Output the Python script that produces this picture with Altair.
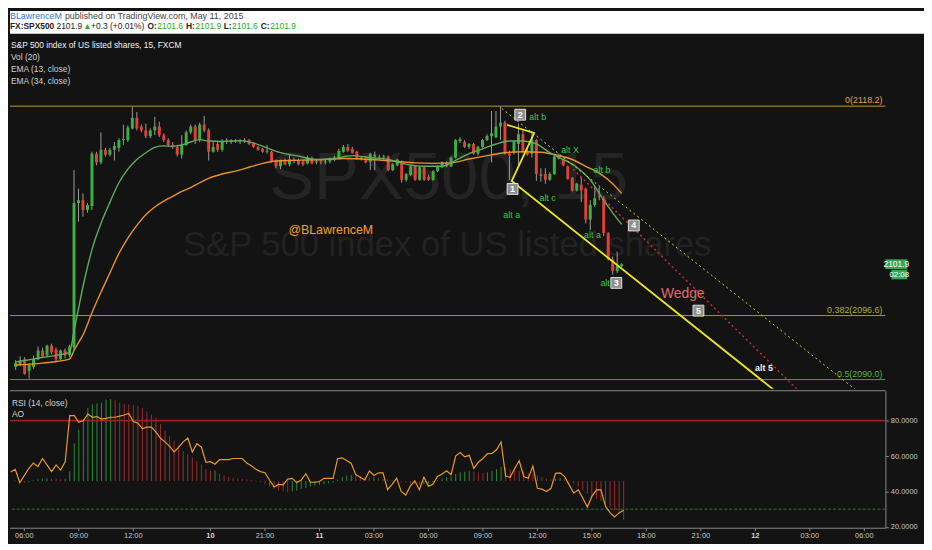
import altair as alt
import pandas as pd

FONT = "Liberation Sans, Arial, sans-serif"

# ------------------------------------------------------------------ data
# 15-minute bars; bar 0 = Fri 06:00, bar 41 = Sun 18:00 session open
bar_index = list(range(-3, 133))

bar_open = [
    2091.3, 2091.6, 2092.1, 2090.9, 2091.3, 2092.1, 2093.0, 2092.5, 2093.5, 2093.1, 2092.1, 2093.0, 2092.5,
    2093.3, 2108.2, 2108.5, 2107.5, 2107.9, 2113.3, 2112.4, 2113.7, 2113.2, 2113.7,
    2113.9, 2114.7, 2114.7, 2115.9, 2117.0, 2116.1, 2115.7, 2115.1, 2115.7, 2116.1,
    2115.2, 2114.7, 2114.2, 2114.0, 2113.2, 2114.2, 2115.5, 2116.1, 2114.7, 2116.3,
    2115.7, 2113.5, 2114.3, 2113.7, 2114.6, 2114.5, 2114.6, 2114.5, 2114.6, 2114.7,
    2114.3, 2114.0, 2113.8, 2113.5, 2113.5, 2112.5, 2112.0, 2112.6, 2112.2, 2112.7,
    2112.6, 2112.5, 2112.3, 2112.8, 2112.4, 2112.5, 2112.4, 2112.5, 2112.7, 2112.8,
    2113.5, 2114.0, 2113.8, 2113.5, 2112.8, 2112.8, 2112.5, 2113.0, 2113.0, 2112.9,
    2113.0, 2111.6, 2112.1, 2112.4, 2110.6, 2111.1, 2112.0, 2110.6, 2111.9, 2110.9,
    2110.6, 2111.5, 2111.9, 2112.4, 2112.0, 2112.9, 2114.6, 2114.5, 2114.0, 2114.3,
    2113.3, 2114.0, 2114.7, 2115.1, 2115.0, 2116.1, 2116.5, 2113.3, 2113.4, 2114.3,
    2115.3, 2113.6, 2113.3, 2114.7, 2111.2, 2111.2, 2110.6, 2111.2, 2112.8, 2112.7,
    2112.0, 2110.8, 2109.5, 2110.1, 2109.7, 2106.5, 2108.0, 2108.8, 2108.7, 2105.1,
    2102.4, 2101.2, 2101.7,
]
bar_high = [
    2092.0, 2092.4, 2092.3, 2091.7, 2092.5, 2093.4, 2093.3, 2093.6, 2093.7, 2093.3, 2093.1, 2093.2, 2093.6,
    2111.6, 2109.7, 2109.2, 2108.2, 2113.5, 2113.5, 2115.5, 2113.9, 2113.9, 2114.5,
    2114.9, 2116.3, 2116.2, 2118.1, 2117.6, 2116.3, 2116.4, 2115.9, 2117.1, 2116.6,
    2115.4, 2114.9, 2114.5, 2114.2, 2115.2, 2115.7, 2116.3, 2116.3, 2116.5, 2117.2,
    2115.9, 2114.6, 2114.5, 2114.8, 2114.9, 2114.8, 2114.8, 2114.8, 2114.9, 2114.8,
    2114.4, 2114.1, 2113.9, 2114.2, 2113.6, 2112.7, 2112.7, 2112.8, 2113.3, 2112.9,
    2112.8, 2112.7, 2113.1, 2113.0, 2112.7, 2112.7, 2112.7, 2112.9, 2113.1, 2113.8,
    2114.2, 2114.3, 2114.0, 2113.6, 2113.0, 2112.9, 2113.4, 2113.5, 2113.2, 2113.2,
    2113.1, 2112.3, 2112.8, 2112.6, 2111.3, 2112.1, 2112.1, 2112.0, 2112.0, 2111.1,
    2111.6, 2112.1, 2112.5, 2112.5, 2113.0, 2114.8, 2115.0, 2114.7, 2114.4, 2114.4,
    2114.1, 2114.8, 2115.3, 2117.7, 2117.7, 2118.2, 2116.7, 2113.6, 2114.6, 2116.4,
    2115.7, 2113.8, 2115.6, 2114.8, 2111.8, 2111.8, 2111.4, 2113.3, 2113.3, 2112.8,
    2112.1, 2110.9, 2110.3, 2110.9, 2109.8, 2108.5, 2109.9, 2109.9, 2108.9, 2105.2,
    2102.7, 2103.2, 2102.0,
]
bar_low = [
    2091.0, 2091.4, 2090.5, 2090.1, 2091.1, 2092.0, 2092.2, 2092.3, 2092.6, 2091.9, 2092.0, 2092.2, 2092.3,
    2093.0, 2106.3, 2106.8, 2107.2, 2107.5, 2112.1, 2112.2, 2113.0, 2113.0, 2112.6,
    2113.5, 2114.2, 2114.5, 2115.8, 2115.7, 2115.5, 2114.9, 2114.9, 2115.2, 2115.0,
    2114.5, 2114.0, 2113.8, 2113.0, 2112.8, 2114.1, 2115.3, 2114.3, 2114.5, 2115.5,
    2112.6, 2113.4, 2113.5, 2113.5, 2114.3, 2114.3, 2114.4, 2114.3, 2114.4, 2114.2,
    2113.9, 2113.6, 2113.4, 2113.3, 2112.4, 2111.8, 2111.7, 2112.1, 2112.0, 2112.3,
    2112.1, 2112.0, 2112.2, 2112.2, 2112.2, 2112.2, 2112.2, 2112.3, 2112.5, 2112.7,
    2113.4, 2113.5, 2113.3, 2112.7, 2112.6, 2112.3, 2111.6, 2111.6, 2112.7, 2112.7,
    2111.5, 2111.5, 2112.0, 2110.3, 2110.4, 2111.0, 2110.5, 2110.5, 2110.5, 2110.5,
    2110.5, 2111.4, 2111.8, 2111.9, 2111.9, 2112.8, 2114.4, 2113.9, 2113.8, 2113.2,
    2113.1, 2113.9, 2114.6, 2112.4, 2114.9, 2114.7, 2113.2, 2110.6, 2113.2, 2112.1,
    2113.4, 2113.1, 2112.9, 2110.5, 2110.4, 2110.2, 2110.5, 2111.1, 2112.7, 2112.0,
    2110.6, 2109.4, 2109.4, 2108.3, 2106.1, 2105.4, 2107.8, 2108.5, 2104.8, 2102.3,
    2100.8, 2101.0, 2101.6,
]
bar_close = [
    2091.7, 2092.0, 2090.6, 2091.5, 2092.1, 2093.0, 2092.4, 2093.5, 2092.8, 2092.1, 2093.0, 2092.5, 2093.4,
    2108.2, 2108.5, 2107.5, 2108.0, 2113.3, 2112.4, 2113.7, 2113.2, 2113.7, 2114.1,
    2114.7, 2114.8, 2116.0, 2117.0, 2115.9, 2115.7, 2115.1, 2115.7, 2116.1, 2115.2,
    2114.7, 2114.2, 2114.0, 2113.2, 2114.2, 2115.5, 2116.1, 2114.7, 2116.3, 2115.7,
    2113.5, 2114.0, 2113.7, 2114.6, 2114.5, 2114.6, 2114.5, 2114.6, 2114.7, 2114.3,
    2114.0, 2113.7, 2113.5, 2113.6, 2112.5, 2112.0, 2112.6, 2112.2, 2112.7, 2112.6,
    2112.2, 2112.2, 2112.9, 2112.3, 2112.5, 2112.4, 2112.5, 2112.7, 2112.9, 2113.6,
    2114.0, 2113.6, 2113.4, 2112.8, 2112.9, 2112.4, 2113.3, 2113.2, 2112.9, 2113.0,
    2111.6, 2112.2, 2112.7, 2110.6, 2111.2, 2112.0, 2110.6, 2111.9, 2110.6, 2110.6,
    2111.5, 2112.0, 2112.4, 2112.0, 2112.9, 2114.7, 2114.8, 2114.0, 2114.3, 2113.3,
    2114.0, 2114.7, 2115.1, 2115.4, 2116.1, 2116.5, 2113.3, 2113.1, 2114.5, 2115.3,
    2113.5, 2113.2, 2114.7, 2111.2, 2111.0, 2110.6, 2111.2, 2113.0, 2113.1, 2112.1,
    2110.7, 2109.5, 2110.2, 2109.5, 2106.5, 2108.0, 2108.7, 2108.9, 2105.1, 2102.4,
    2101.2, 2101.7, 2101.9,
]

rsi_values = [
    51, 52.5, 45, 49, 53, 56, 54, 58.6, 55, 51.2, 55, 52.1, 56.8,
    82.8, 82.8, 79.1, 80, 83.7, 81.9, 82.3, 80.9, 81.3, 81.9,
    81.9, 82.5, 83.2, 84.1, 79.5, 78.5, 75.5, 76.3, 76.3, 73.5,
    70, 68, 65.5, 62.3, 65, 68, 70.2, 62.3, 67, 65,
    56.5, 56.8, 55.4, 58, 58, 58, 58.6, 58.6, 58.6, 56,
    54.5, 52.5, 51.2, 50.6, 46.5, 42.5, 44, 43.7, 47, 47.4,
    45, 46.5, 50, 45.3, 45.2, 45.6, 47.4, 47.4, 47.4, 58.5,
    59, 57.5, 55.8, 49.5, 48, 46.5, 51.5, 49, 50.5, 50.5,
    41, 44, 47.5, 40, 38, 43, 46, 41, 48, 43,
    44, 48.5, 49.8, 51.7, 49.5, 60, 62, 59.5, 60.4, 53,
    56.5, 58.6, 61.4, 61.5, 63.5, 67.9, 48.7, 48, 53, 57.3,
    48.4, 47.4, 54.3, 41.8, 41.3, 40.0, 41.8, 50.2, 50.5, 48.4,
    43.7, 39.0, 40.9, 36.3, 31.2, 37.2, 40.9, 40.9, 31.6, 28,
    25.6, 27.9, 29.4,
]

ao_values = [
    0.0, 0.05, -0.1, -0.2, -0.15, 0.1, 0.2, 0.3, 0.35, 0.3, 0.25, 0.2, 0.3,
    1.25, 4.75, 6.5, 7.8, 9.25, 9.7, 9.8, 9.9, 10.3, 10.35,
    10.2, 9.9, 9.75, 9.7, 9.6, 9.5, 9.25, 8.8, 8.4, 8.0,
    7.2, 6.3, 5.7, 5.1, 4.5, 3.8, 3.4, 3.0, 2.5, 2.1,
    1.5, 1.3, 1.35, 0.9, 0.7, 0.5, 0.4, 0.3, 0.25, 0.2,
    0.1, 0.05, -0.1, -0.4, -0.7, -1.0, -1.2, -1.3, -1.4, -1.3,
    -1.2, -1.0, -0.9, -0.7, -0.6, -0.5, -0.4, -0.3, -0.2, 0.2,
    0.5, 0.7, 0.75, 0.7, 0.6, 0.5, 0.45, 0.5, 0.4, 0.3,
    0.2, 0.1, 0.05, -0.1, -0.2, -0.3, -0.4, -0.45, -0.4, -0.3,
    -0.2, 0.1, 0.3, 0.5, 0.6, 0.9, 1.1, 1.2, 1.3, 1.2,
    1.1, 1.0, 1.1, 1.3, 1.5, 1.8, 1.7, 1.5, 1.4, 1.3,
    1.2, 1.0, 0.9, 0.7, 0.5, 0.3, 0.2, 0.3, 0.4, 0.3,
    0.1, -0.3, -0.7, -1.1, -1.6, -2.0, -2.3, -2.5, -2.9, -3.3,
    -3.7, -4.0, -4.9,
]

ema13_bar = [-3, 2, 6, 9, 10, 11, 12, 13, 14, 16, 18, 20, 22, 24, 26, 28, 30, 32, 34, 36,
             38, 40, 43, 47, 50, 53, 56, 60, 64, 68, 72, 76, 80, 84, 88, 92, 95, 98, 101, 104,
             107, 110, 113, 116, 119, 122, 125, 128, 130, 132]
ema13_val = [2091.8, 2092.2, 2092.5, 2092.8, 2095.0, 2097.3, 2099.6, 2101.6, 2103.4, 2106.1,
             2108.3, 2110.3, 2111.7, 2112.7, 2113.4, 2113.95, 2114.1, 2114.05, 2114.2, 2114.5,
             2114.75, 2114.6, 2114.55, 2114.65, 2114.4, 2113.9, 2113.4, 2113.05, 2112.7, 2112.8,
             2113.1, 2112.9, 2112.7, 2112.2, 2112.0, 2112.0, 2112.6, 2113.3, 2113.8, 2114.3,
             2114.6, 2114.6, 2114.3, 2113.4, 2112.7, 2111.9, 2110.6, 2108.5, 2107.2, 2106.0]
ema34_bar = [-3, 3, 9, 10, 11, 12, 14, 16, 18, 20, 22, 24, 26, 28, 30, 32, 34, 36, 38, 40,
             43, 46, 49, 52, 55, 58, 62, 66, 70, 74, 78, 82, 86, 90, 94, 98, 102, 106, 110, 114,
             118, 121, 124, 127, 130, 132]
ema34_val = [2091.5, 2091.7, 2092.1, 2093.0, 2093.8, 2094.6, 2096.9, 2099.0, 2101.0, 2103.0,
             2104.6, 2105.9, 2107.0, 2107.8, 2108.4, 2108.9, 2109.4, 2109.8, 2110.3, 2110.75,
             2111.2, 2111.5, 2111.9, 2112.3, 2112.55, 2112.6, 2112.65, 2112.7, 2112.8, 2112.75,
             2112.65, 2112.5, 2112.35, 2112.3, 2112.35, 2112.75, 2113.1, 2113.4, 2113.5, 2113.45,
             2113.1, 2112.7, 2112.0, 2111.3, 2110.2, 2109.2]

fib_names = ["0", "0.382", "0.5"]
fib_price = [2118.2, 2096.6, 2090.0]

wave_num = ["1", "2", "3", "4", "5"]
wave_bar = [107.7, 109.4, 130.8, 134.7, 149.1]
wave_price = [2109.66, 2117.32, 2099.97, 2105.89, 2097.11]

note_text = ["alt b", "alt X", "alt b", "alt a", "alt c", "alt a", "alt"]
note_bar = [113.3, 120.5, 127.6, 107.5, 115.5, 125.5, 128.3]
note_price = [2117.04, 2113.71, 2111.57, 2107.01, 2108.71, 2104.94, 2100.0]

wedge_bar = [106.5, 112.5, 107.5, 166.0]
wedge_price = [2116.27, 2115.43, 2110.48, 2088.9]
upper_bar = [105.3, 184.5]
upper_price = [2117.96, 2088.8]
red_bar = [121.2, 171.5]
red_price = [2111.7, 2088.8]

price_ticks = [2090.0, 2092.5, 2095.0, 2097.5, 2100.0, 2102.5, 2105.0, 2107.5,
               2110.0, 2112.5, 2115.0, 2117.5, 2120.0, 2122.5, 2125.0]
rsi_ticks = [20, 40, 60, 80]
rsi_bands = [80, 30]
x_ticks = [0, 12, 24, 41, 53, 65, 77, 89, 101, 113, 125, 137, 149, 161, 173, 185]
x_labels = ["06:00", "09:00", "12:00", "10", "21:00", "11", "03:00", "06:00",
            "09:00", "12:00", "15:00", "18:00", "21:00", "12", "03:00", "06:00"]
day_ticks = [41, 65, 161]

last_price = 2101.9
countdown = "02:08"

# ------------------------------------------------------------------ frames
bars = pd.DataFrame({"bar": bar_index, "open": bar_open, "high": bar_high,
                     "low": bar_low, "close": bar_close})
bars["up"] = bars["close"] >= bars["open"]
rsi = pd.DataFrame({"bar": bar_index, "rsi": rsi_values})
ao = pd.DataFrame({"bar": bar_index, "ao": ao_values})
ao["up"] = ao["ao"].diff().fillna(0) >= 0
ao["base"] = 0.0
e13 = pd.DataFrame({"bar": ema13_bar, "v": ema13_val})
e34 = pd.DataFrame({"bar": ema34_bar, "v": ema34_val})
fib = pd.DataFrame({"name": fib_names, "price": fib_price})
fib["label"] = [f"{n}({p:.1f})" for n, p in zip(fib_names, fib_price)]
waves = pd.DataFrame({"num": wave_num, "bar": wave_bar, "price": wave_price})
notes = pd.DataFrame({"t": note_text, "bar": note_bar, "price": note_price})
wedge = pd.DataFrame({"bar": wedge_bar, "price": wedge_price, "k": list(range(len(wedge_bar)))})
upper = pd.DataFrame({"bar": upper_bar, "price": upper_price})
redl = pd.DataFrame({"bar": red_bar, "price": red_price})
lastp = pd.DataFrame({"p": [last_price], "t": [f"{last_price:.1f}"], "c": [countdown]})
ticks = pd.DataFrame({"bar": x_ticks, "label": x_labels})
ticks["day"] = ticks["bar"].isin(day_ticks)
ONE = pd.DataFrame({"k": [0]})

# ------------------------------------------------------------------ scales / sizes
W, H1, H2 = 885, 359, 139
BG = "#131313"
GREEN, RED = "#3cb043", "#e2403a"
xs = alt.Scale(domain=[-3.16, 189.65], nice=False, zero=False)
ys = alt.Scale(domain=[2089.05, 2125.68], nice=False, zero=False)
rs = alt.Scale(domain=[19.22, 96.87], nice=False, zero=False)
aos = alt.Scale(domain=[-5.96, 11.41], nice=False, zero=False)


def X(f="bar"):
    return alt.X(f"{f}:Q", scale=xs, axis=None)


def Y(f):
    return alt.Y(f"{f}:Q", scale=ys, axis=None)


def label(text, x, y, color, size=8.5, weight="normal", align="left", font=FONT):
    return alt.Chart(ONE).mark_text(text=text, align=align, baseline="middle", color=color,
                                    fontSize=size, fontWeight=weight, font=font).encode(
        x=alt.value(x), y=alt.value(y))


# ------------------------------------------------------------------ top pane
layers = []
layers.append(label("SPX500, 15", 262, 147, "#242424", size=68))
layers.append(label("S&P 500 index of US listed shares", 442, 214, "#222222", size=35, align="center"))

fib_line_colors = ["#c8963a", "#9aa41e", "#4e9c34"]
fib_text_colors = ["#e8a53c", "#a8b428", "#5cb43c"]
for name, lc, tc in zip(fib_names, fib_line_colors, fib_text_colors):
    sub = fib[fib["name"] == name]
    layers.append(alt.Chart(sub).mark_rule(strokeWidth=1, color=lc).encode(y=Y("price")))
    layers.append(alt.Chart(sub).mark_text(align="right", baseline="bottom", dy=-1, fontSize=9,
                                           font=FONT, color=tc).encode(
        x=alt.value(W - 3), y=Y("price"), text="label:N"))

layers.append(alt.Chart(bars).mark_rule(color="#9a9a9a", strokeWidth=1).encode(
    x=X(), y=alt.Y("low:Q", scale=ys, title=None,
                   axis=alt.Axis(orient="right", values=price_ticks, format=".1f", tickSize=3,
                                 labelPadding=2, labelFontSize=8.5, labelOverlap=False)),
    y2="high:Q"))
layers.append(alt.Chart(bars[bars["up"]]).mark_bar(width=3, color=GREEN).encode(
    x=X(), y=Y("open"), y2="close:Q"))
layers.append(alt.Chart(bars[~bars["up"]]).mark_bar(width=3, color=RED).encode(
    x=X(), y=Y("open"), y2="close:Q"))

layers.append(alt.Chart(e34).mark_line(color="#e8922e", strokeWidth=1.4, interpolate="monotone").encode(
    x=X(), y=Y("v")))
layers.append(alt.Chart(e13).mark_line(color="#5fae5f", strokeWidth=1.4, interpolate="monotone").encode(
    x=X(), y=Y("v")))

layers.append(alt.Chart(wedge).mark_line(color="#e8e81a", strokeWidth=1.8, clip=True).encode(
    x=X(), y=Y("price"), order="k:Q"))
layers.append(alt.Chart(upper).mark_line(color="#d6d61e", strokeWidth=1, strokeDash=[2, 3], clip=True).encode(
    x=X(), y=Y("price")))
layers.append(alt.Chart(redl).mark_line(color="#c43030", strokeWidth=1.5, strokeDash=[2, 3], clip=True).encode(
    x=X(), y=Y("price")))

layers.append(alt.Chart(waves).mark_point(shape="square", filled=True, color="#8e8e8e", stroke="#e0e0e0",
                                          strokeWidth=1, size=120, opacity=1).encode(x=X(), y=Y("price")))
layers.append(alt.Chart(waves).mark_text(color="#ffffff", fontSize=9, fontWeight="bold", font=FONT).encode(
    x=X(), y=Y("price"), text="num:N"))
layers.append(alt.Chart(notes).mark_text(color="#2ecc40", fontSize=9, font=FONT).encode(
    x=X(), y=Y("price"), text="t:N"))
layers.append(alt.Chart(pd.DataFrame({"t": ["alt 5"], "bar": [163.7], "price": [2091.19]})).mark_text(
    color="#f2f2f2", fontSize=9, fontWeight="bold", font=FONT).encode(x=X(), y=Y("price"), text="t:N"))
layers.append(alt.Chart(pd.DataFrame({"t": ["Wedge"], "bar": [145.6], "price": [2098.85]})).mark_text(
    color="#e06a6a", fontSize=14, font=FONT).encode(x=X(), y=Y("price"), text="t:N"))
layers.append(alt.Chart(pd.DataFrame({"t": ["@BLawrenceM"], "bar": [67.2], "price": [2105.38]})).mark_text(
    color="#f0a030", fontSize=12.5, font=FONT).encode(x=X(), y=Y("price"), text="t:N"))

# pane legend texts
for i, t in enumerate(["S&P 500 index of US listed shares, 15, FXCM", "Vol (20)",
                       "EMA (13, close)", "EMA (34, close)"]):
    layers.append(label(t, 1, 12 + 11.8 * i, "#f2f2f2" if i == 0 else "#d0d0d0", size=8.5))

# header band
layers.append(alt.Chart(ONE).mark_rect(color="#ffffff").encode(
    x=alt.value(0), x2=alt.value(924), y=alt.value(-23), y2=alt.value(0)))
layers.append(label("BLawrenceM", 0, -18.3, "#2a7ad3", size=9))
layers.append(label("published on TradingView.com, May 11, 2015", 55.5, -18.3, "#444444", size=9))
hdr2 = [("FX:SPX500", 0, "#222222", "bold"), ("2101.9", 47, "#222222", "normal"),
        ("\u25b2", 74, "#33a833", "normal"), ("+0.3 (+0.01%)", 82, "#222222", "normal"),
        ("O:", 139, "#222222", "bold"), ("2101.6", 149, "#2ea02e", "normal"),
        ("H:", 178, "#222222", "bold"), ("2101.9", 187.5, "#2ea02e", "normal"),
        ("L:", 216, "#222222", "bold"), ("2101.6", 224.5, "#2ea02e", "normal"),
        ("C:", 253.5, "#222222", "bold"), ("2101.9", 263, "#2ea02e", "normal")]
for t, x, c, w in hdr2:
    layers.append(label(t, x, -7.5, c, size=8.5, weight=w))

# last price box on the axis
layers.append(alt.Chart(lastp).transform_calculate(lo="datum.p - 0.5", hi="datum.p + 0.5").mark_rect(
    color="#3aa655").encode(x=alt.value(885), x2=alt.value(907), y=Y("lo"), y2="hi:Q"))
layers.append(alt.Chart(lastp).transform_calculate(lo="datum.p - 1.56", hi="datum.p - 0.58").mark_rect(
    color="#3aa655").encode(x=alt.value(891), x2=alt.value(907), y=Y("lo"), y2="hi:Q"))
layers.append(alt.Chart(lastp).mark_text(color="#ffffff", fontSize=8.5, font=FONT).encode(
    x=alt.value(896), y=Y("p"), text="t:N"))
layers.append(alt.Chart(lastp).transform_calculate(q="datum.p - 1.07").mark_text(
    color="#ffffff", fontSize=8, font=FONT).encode(x=alt.value(899), y=Y("q"), text="c:N"))

top = alt.layer(*layers).properties(width=W, height=H1)

# ------------------------------------------------------------------ RSI / AO pane
blayers = []
blayers.append(alt.Chart(ao[ao["up"]]).mark_rule(strokeWidth=1, color="#2b8a3a").encode(
    x=X(), y=alt.Y("base:Q", scale=aos, axis=None), y2="ao:Q"))
blayers.append(alt.Chart(ao[~ao["up"]]).mark_rule(strokeWidth=1, color="#9a2c2a").encode(
    x=X(), y=alt.Y("base:Q", scale=aos, axis=None), y2="ao:Q"))
blayers.append(alt.Chart(pd.DataFrame({"v": [rsi_bands[0]]})).mark_rule(color="#9e1f1f", strokeWidth=1.6).encode(
    y=alt.Y("v:Q", scale=rs, axis=None)))
blayers.append(alt.Chart(pd.DataFrame({"v": [rsi_bands[1]]})).mark_rule(
    color="#2f7a2f", strokeWidth=1, strokeDash=[3, 2]).encode(y=alt.Y("v:Q", scale=rs, axis=None)))
blayers.append(alt.Chart(rsi).mark_line(color="#eb9a22", strokeWidth=1.2).encode(
    x=X(),
    y=alt.Y("rsi:Q", scale=rs, title=None,
            axis=alt.Axis(orient="right", values=rsi_ticks, format=".4f", tickSize=3, labelPadding=2,
                          labelFontSize=7.5, labelOverlap=False))))
# pane separator, time axis line, ticks and labels
blayers.append(alt.Chart(ONE).mark_rule(color="#8a8a8a", strokeWidth=1).encode(
    x=alt.value(0), x2=alt.value(W), y=alt.value(0)))
blayers.append(alt.Chart(ONE).mark_rule(color="#8a8a8a", strokeWidth=1).encode(
    x=alt.value(0), x2=alt.value(W), y=alt.value(H2)))
blayers.append(alt.Chart(ticks).mark_rule(color="#8a8a8a", strokeWidth=1).encode(
    x=X(), y=alt.value(H2), y2=alt.value(H2 + 3)))
blayers.append(alt.Chart(ticks[~ticks["day"]]).mark_text(color="#c8c8c8", fontSize=7.5, font=FONT,
                                                         baseline="middle").encode(
    x=X(), y=alt.value(H2 + 7.5), text="label:N"))
blayers.append(alt.Chart(ticks[ticks["day"]]).mark_text(color="#d8d8d8", fontSize=7.5, font=FONT,
                                                        fontWeight="bold", baseline="middle").encode(
    x=X(), y=alt.value(H2 + 7.5), text="label:N"))
blayers.append(label("RSI (14, close)", 2, 12.5, "#d0d0d0", size=8.5))
blayers.append(label("AO", 2, 24, "#d0d0d0", size=8.5))

bottom = alt.layer(*blayers).resolve_scale(y="independent").properties(width=W, height=H2)

chart = alt.vconcat(top, bottom, spacing=1).properties(
    background=BG, padding={"left": 0, "top": 0, "right": 0, "bottom": 2}
).configure_view(fill=BG, strokeWidth=0).configure_axis(
    labelColor="#c8c8c8", labelFont=FONT, domainColor="#8a8a8a", tickColor="#8a8a8a", grid=False)

chart.save("out.html", embed_options={"renderer": "svg", "actions": False})
